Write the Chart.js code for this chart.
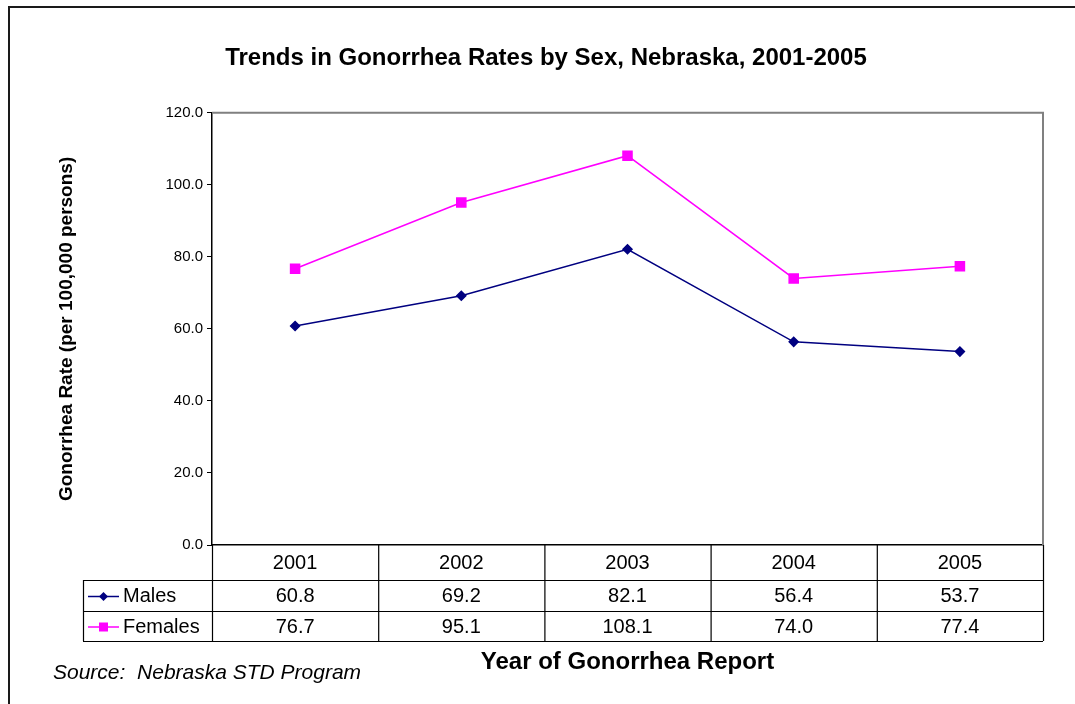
<!DOCTYPE html>
<html>
<head>
<meta charset="utf-8">
<script src="https://cdn.jsdelivr.net/npm/chart.js@4.4.1/dist/chart.umd.min.js"></script>
<style>
  html, body { margin: 0; padding: 0; background: #ffffff; }
  #wrap { width: 1075px; height: 704px; position: relative; }
</style>
</head>
<body>
<div id="wrap"><canvas id="c" width="1075" height="704"></canvas></div>
<script>
const years = ['2001', '2002', '2003', '2004', '2005'];
const males = [60.8, 69.2, 82.1, 56.4, 53.7];
const females = [76.7, 95.1, 108.1, 74.0, 77.4];
const yTicks = [0, 20, 40, 60, 80, 100, 120];
const seriesNames = ['Males', 'Females'];
const chartTitle = 'Trends in Gonorrhea Rates by Sex, Nebraska, 2001-2005';
const yTitle = 'Gonorrhea Rate (per 100,000 persons)';
const xTitle = 'Year of Gonorrhea Report';
const sourceNote = 'Source:  Nebraska STD Program';

const MALE_COLOR = '#000080';
const FEMALE_COLOR = '#FF00FF';
const FONT = "'Liberation Sans', Arial, Helvetica, sans-serif";

const framePlugin = {
  id: 'frame',
  beforeDraw(chart) {
    const ctx = chart.ctx;
    ctx.save();
    ctx.fillStyle = '#ffffff';
    ctx.fillRect(0, 0, chart.width, chart.height);
    ctx.strokeStyle = '#1a1a1a';
    ctx.lineWidth = 2;
    ctx.beginPath();
    ctx.moveTo(9, chart.height + 5);
    ctx.lineTo(9, 7);
    ctx.lineTo(chart.width + 5, 7);
    ctx.stroke();
    ctx.restore();
  },
  afterDatasetsDraw(chart) {
    const ctx = chart.ctx;
    const a = chart.chartArea;
    ctx.save();
    ctx.strokeStyle = '#808080';
    ctx.lineWidth = 2;
    ctx.beginPath();
    ctx.moveTo(a.left, a.top);
    ctx.lineTo(a.right, a.top);
    ctx.lineTo(a.right, a.bottom);
    ctx.stroke();
    ctx.restore();
  },
  afterDraw(chart) {
    const ctx = chart.ctx;
    const a = chart.chartArea;
    const xs = chart.scales.x;
    const n = years.length;
    const half = (xs.getPixelForValue(1) - xs.getPixelForValue(0)) / 2;
    const bounds = [];
    for (let i = 0; i < n; i++) bounds.push(xs.getPixelForValue(i) - half);
    bounds.push(xs.getPixelForValue(n - 1) + half);
    const legendLeft = 83;
    const rowTop = [a.bottom + 35, a.bottom + 66];
    const tableBottom = a.bottom + 96;
    ctx.save();
    ctx.strokeStyle = '#000000';
    ctx.lineWidth = 1.2;
    ctx.beginPath();
    [rowTop[0], rowTop[1], tableBottom].forEach(y => {
      ctx.moveTo(legendLeft, y + 0.5);
      ctx.lineTo(a.right, y + 0.5);
    });
    bounds.forEach(x => {
      ctx.moveTo(x + 0.5, a.bottom);
      ctx.lineTo(x + 0.5, tableBottom);
    });
    ctx.moveTo(legendLeft + 0.5, rowTop[0]);
    ctx.lineTo(legendLeft + 0.5, tableBottom);
    ctx.stroke();

    const rows = [males, females];
    const colors = [MALE_COLOR, FEMALE_COLOR];
    ctx.font = '20px ' + FONT;
    ctx.textBaseline = 'middle';
    rows.forEach((vals, r) => {
      const yMid = (rowTop[r] + (r === 0 ? rowTop[1] : tableBottom)) / 2 + 1;
      ctx.fillStyle = '#000000';
      ctx.textAlign = 'center';
      vals.forEach((v, i) => {
        ctx.fillText(v.toFixed(1), xs.getPixelForValue(i), yMid);
      });
      ctx.strokeStyle = colors[r];
      ctx.lineWidth = 1.5;
      ctx.beginPath();
      ctx.moveTo(88, yMid);
      ctx.lineTo(119, yMid);
      ctx.stroke();
      ctx.fillStyle = colors[r];
      ctx.beginPath();
      if (r === 0) {
        ctx.moveTo(103.5, yMid - 4.5);
        ctx.lineTo(108, yMid);
        ctx.lineTo(103.5, yMid + 4.5);
        ctx.lineTo(99, yMid);
        ctx.closePath();
      } else {
        ctx.rect(99, yMid - 4.5, 9, 9);
      }
      ctx.fill();
      ctx.fillStyle = '#000000';
      ctx.textAlign = 'left';
      ctx.fillText(seriesNames[r], 123, yMid);
    });

    ctx.font = 'italic 21px ' + FONT;
    ctx.textAlign = 'left';
    ctx.fillStyle = '#000000';
    ctx.fillText(sourceNote, 53, 673);
    ctx.restore();
  }
};

new Chart(document.getElementById('c'), {
  type: 'line',
  data: {
    labels: years,
    datasets: [
      {
        label: seriesNames[0],
        data: males,
        borderColor: MALE_COLOR,
        backgroundColor: MALE_COLOR,
        borderWidth: 1.5,
        pointStyle: 'rectRot',
        pointRadius: 4.5,
        pointHoverRadius: 4.5,
        tension: 0
      },
      {
        label: seriesNames[1],
        data: females,
        borderColor: FEMALE_COLOR,
        backgroundColor: FEMALE_COLOR,
        borderWidth: 1.5,
        pointStyle: 'rect',
        pointRadius: 6.4,
        pointHoverRadius: 6.4,
        tension: 0
      }
    ]
  },
  options: {
    responsive: false,
    animation: false,
    devicePixelRatio: 1,
    layout: { padding: { left: 49, right: 32, top: 0, bottom: 0 } },
    plugins: {
      legend: { display: false },
      tooltip: { enabled: false },
      title: {
        display: true,
        text: chartTitle,
        color: '#000000',
        font: { family: FONT, size: 24, weight: 'bold', lineHeight: 1.2 },
        padding: { top: 44, bottom: 40 }
      }
    },
    scales: {
      x: {
        type: 'category',
        offset: true,
        grid: { display: false, offset: true },
        border: { display: true, color: '#000000', width: 1.5 },
        ticks: {
          color: '#000000',
          font: { family: FONT, size: 20 },
          padding: -2,
          maxRotation: 0
        },
        title: {
          display: true,
          text: xTitle,
          color: '#000000',
          font: { family: FONT, size: 24, weight: 'bold', lineHeight: 1.2 },
          padding: { top: 0, bottom: 27 }
        },
        afterFit(s) { s.height = 159; }
      },
      y: {
        min: 0,
        max: 120,
        afterBuildTicks(s) { s.ticks = yTicks.map(v => ({ value: v })); },
        grid: {
          drawOnChartArea: false,
          drawTicks: true,
          tickLength: 5,
          color: '#000000'
        },
        border: { display: true, color: '#000000', width: 1.5 },
        ticks: {
          color: '#000000',
          font: { family: FONT, size: 15 },
          padding: 4,
          callback: v => Number(v).toFixed(1)
        },
        title: {
          display: true,
          text: yTitle,
          color: '#000000',
          font: { family: FONT, size: 19, weight: 'bold', lineHeight: 1.2 },
          padding: { top: 6, bottom: 0 }
        },
        afterFit(s) { s.width = 212 - 49; }
      }
    }
  },
  plugins: [framePlugin]
});
</script>
</body>
</html>
